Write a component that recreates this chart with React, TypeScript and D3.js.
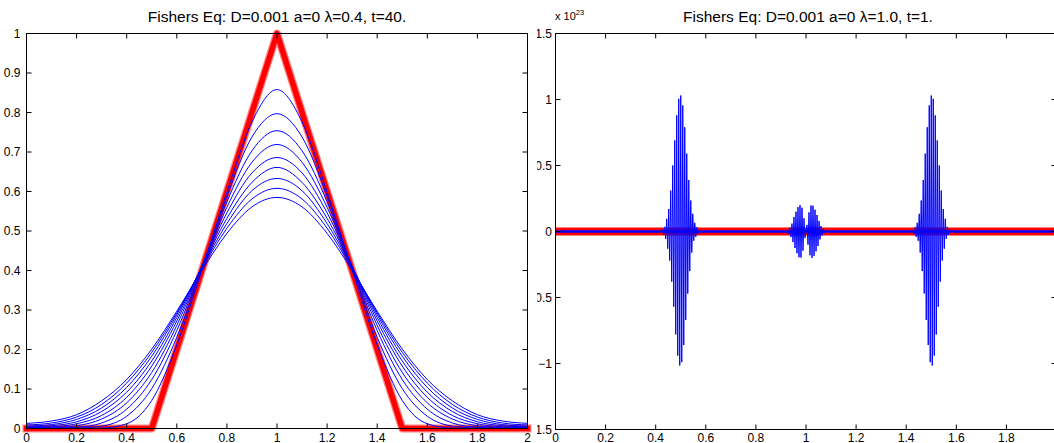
import * as d3 from 'd3';

const FONT = '"Liberation Sans", Arial, Helvetica, sans-serif';

// ---- left panel: lambda = 0.4, t = 40 ----
const profileX = [0, 0.1, 0.2, 0.3, 0.4, 0.5, 0.6, 0.7, 0.8, 0.9, 1.0, 1.1, 1.2, 1.3, 1.4, 1.5, 1.6, 1.7, 1.8, 1.9, 2.0];

// blue profiles (earliest first)
const profiles = [
  [0, 0, 0, 0.001, 0.012, 0.071, 0.212, 0.401, 0.598, 0.776, 0.858, 0.776, 0.598, 0.401, 0.212, 0.071, 0.012, 0.001, 0, 0, 0],
  [0, 0, 0.001, 0.006, 0.031, 0.101, 0.231, 0.405, 0.588, 0.738, 0.797, 0.738, 0.588, 0.405, 0.231, 0.101, 0.031, 0.006, 0.001, 0, 0],
  [0, 0.001, 0.003, 0.014, 0.049, 0.124, 0.248, 0.408, 0.574, 0.703, 0.754, 0.703, 0.574, 0.408, 0.248, 0.124, 0.049, 0.014, 0.003, 0.001, 0],
  [0.001, 0.002, 0.007, 0.024, 0.065, 0.142, 0.261, 0.41, 0.56, 0.674, 0.719, 0.674, 0.56, 0.41, 0.261, 0.142, 0.065, 0.024, 0.007, 0.002, 0.001],
  [0.002, 0.004, 0.012, 0.033, 0.079, 0.158, 0.272, 0.41, 0.546, 0.647, 0.686, 0.647, 0.546, 0.41, 0.272, 0.158, 0.079, 0.033, 0.012, 0.004, 0.002],
  [0.004, 0.007, 0.017, 0.043, 0.092, 0.171, 0.281, 0.409, 0.532, 0.623, 0.661, 0.623, 0.532, 0.409, 0.281, 0.171, 0.092, 0.043, 0.017, 0.007, 0.004],
  [0.006, 0.01, 0.023, 0.052, 0.104, 0.183, 0.288, 0.407, 0.519, 0.602, 0.633, 0.602, 0.519, 0.407, 0.288, 0.183, 0.104, 0.052, 0.023, 0.01, 0.006],
  [0.009, 0.014, 0.029, 0.061, 0.115, 0.193, 0.293, 0.404, 0.507, 0.581, 0.608, 0.581, 0.507, 0.404, 0.293, 0.193, 0.115, 0.061, 0.029, 0.014, 0.009],
  [0.013, 0.019, 0.035, 0.07, 0.124, 0.201, 0.297, 0.4, 0.494, 0.561, 0.585, 0.561, 0.494, 0.4, 0.297, 0.201, 0.124, 0.07, 0.035, 0.019, 0.013],
];

// initial condition (red)
const initX = [0, 0.5, 1, 1.5, 2];
const initY = [0, 0, 1, 0, 0];

// ---- right panel: lambda = 1.0, t = 1 (values in units of 1e23) ----
const gridStep = 0.004;
const packetStarts = [0.428, 0.928, 1.428];
const packetLeft = [0.015, -0.025, 0.035, -0.056, 0.096, -0.13, 0.17, -0.22, 0.31, -0.38, 0.5, -0.57, 0.69, -0.78, 0.88, -0.94, 1.005, -1.015, 1.03, -0.99, 0.955, -0.86, 0.79, -0.67, 0.59, -0.47, 0.39, -0.3, 0.235, -0.16, 0.134, -0.07, 0.066, -0.04, 0.033, -0.02, 0.012];
const packetMid = [0.012, -0.02, 0.03, -0.042, 0.06, -0.08, 0.11, -0.125, 0.15, -0.165, 0.185, -0.195, 0.2, -0.197, 0.18, -0.145, 0.1, -0.05, 0, 0.05, -0.1, 0.145, -0.18, 0.197, -0.2, 0.195, -0.185, 0.165, -0.15, 0.125, -0.11, 0.08, -0.06, 0.042, -0.03, 0.02, -0.012];
const packetRight = [0.012, -0.02, 0.033, -0.04, 0.066, -0.07, 0.134, -0.16, 0.235, -0.3, 0.39, -0.47, 0.59, -0.67, 0.79, -0.86, 0.955, -0.99, 1.03, -1.015, 1.005, -0.94, 0.88, -0.78, 0.69, -0.57, 0.5, -0.38, 0.31, -0.22, 0.17, -0.13, 0.096, -0.056, 0.035, -0.025, 0.015];
// earlier profiles: of order 1, i.e. 0 at the 1e23 scale
const flatX = [0, 2];
const flatY = [0, 0];

const xTicks = [0, 0.2, 0.4, 0.6, 0.8, 1, 1.2, 1.4, 1.6, 1.8, 2];
const rightXLabels = [0, 0.2, 0.4, 0.6, 0.8, 1, 1.2, 1.4, 1.6, 1.8]; // "2" falls outside the picture
const leftYTicks = [0, 0.1, 0.2, 0.3, 0.4, 0.5, 0.6, 0.7, 0.8, 0.9, 1];
const rightYTicks = [-1.5, -1, -0.5, 0, 0.5, 1, 1.5];

const fmt = (v: number) => (v < 0 ? '\u2212' : '') + String(Math.abs(v));

function Frame({ x, y, yTicks, xLabels, tl, yLabelX }: any) {
  const [x0, x1] = x.range();
  const [y0, y1] = y.range();
  return (
    <g>
      <rect x={x0} y={y1} width={x1 - x0} height={y0 - y1} fill="none" stroke="#000" strokeWidth={1} />
      {xTicks.map((t) => (
        <g key={'x' + t}>
          <line x1={x(t)} x2={x(t)} y1={y0} y2={y0 - tl} stroke="#000" />
          <line x1={x(t)} x2={x(t)} y1={y1} y2={y1 + tl} stroke="#000" />
        </g>
      ))}
      {xLabels.map((t: number) => (
        <text key={'xl' + t} x={x(t)} y={441.5} textAnchor="middle" fontSize={12}>{fmt(t)}</text>
      ))}
      {yTicks.map((t: number) => (
        <g key={'y' + t}>
          <line x1={x0} x2={x0 + tl} y1={y(t)} y2={y(t)} stroke="#000" />
          <line x1={x1} x2={x1 - tl} y1={y(t)} y2={y(t)} stroke="#000" />
          <text x={yLabelX} y={y(t) + 4.3} textAnchor="end" fontSize={12}>{fmt(t)}</text>
        </g>
      ))}
    </g>
  );
}

export default function App() {
  const lx = d3.scaleLinear().domain([0, 2]).range([26.5, 527.5]);
  const ly = d3.scaleLinear().domain([0, 1]).range([428.5, 33.5]);
  const rx = d3.scaleLinear().domain([0, 2]).range([555.5, 1056.5]);
  const ry = d3.scaleLinear().domain([-1.5, 1.5]).range([429.5, 33.5]);

  const smooth = d3.line<[number, number]>().x((d) => lx(d[0])).y((d) => ly(d[1])).curve(d3.curveMonotoneX);
  const straightL = d3.line<[number, number]>().x((d) => lx(d[0])).y((d) => ly(d[1]));
  const straightR = d3.line<[number, number]>().x((d) => rx(d[0])).y((d) => ry(d[1]));

  const initPts = initX.map((v, i) => [v, initY[i]] as [number, number]);
  const initPtsR = initX.map((v, i) => [v, initY[i] / 1e23] as [number, number]);

  // unstable solution: zero outside the three oscillating packets
  const packets = [packetLeft, packetMid, packetRight];
  const unstable: [number, number][] = [[0, 0]];
  packets.forEach((p, k) => {
    const s = packetStarts[k];
    unstable.push([s - gridStep, 0]);
    p.forEach((v, i) => unstable.push([s + i * gridStep, v]));
    unstable.push([s + p.length * gridStep, 0]);
  });
  unstable.push([2, 0]);

  return (
    <svg width={1054} height={443} style={{ position: 'absolute', left: 0, top: 0, background: '#fff' }} fontFamily={FONT}>
      <rect width={1054} height={443} fill="#fff" />

      {/* right panel */}
      <g>
        <path d={straightR(initPtsR)!} fill="none" stroke="#ff0000" strokeWidth={8} />
        <path d={straightR(flatX.map((v, i) => [v, flatY[i]] as [number, number]))!} fill="none" stroke="#0000ff" strokeWidth={2.5} />
        <path d={straightR(unstable)!} fill="none" stroke="#0000ff" strokeWidth={1} />
        <Frame x={rx} y={ry} yTicks={rightYTicks} xLabels={rightXLabels} tl={5} yLabelX={552} />
        <text x={808} y={22} textAnchor="middle" fontSize={15.5}>Fishers Eq: D=0.001 a=0 λ=1.0, t=1.</text>
        <text x={555} y={19.5} fontSize={11}>x 10<tspan dy={-4.5} fontSize={7.5}>23</tspan></text>
      </g>

      {/* left panel, drawn over the right one */}
      <g>
        <rect x={0} y={0} width={537} height={443} fill="#fff" />
        <path d={straightL(initPts)!} fill="none" stroke="#ff8080" strokeWidth={8} strokeLinejoin="round" strokeLinecap="square" />
        <path d={straightL(initPts)!} fill="none" stroke="#ff0000" strokeWidth={5.5} strokeLinejoin="round" strokeLinecap="square" />
        {profiles.map((p, i) => (
          <path key={i} d={smooth(p.map((v, j) => [profileX[j], v] as [number, number]))!} fill="none" stroke="#0000ff" strokeWidth={1} />
        ))}
        <Frame x={lx} y={ly} yTicks={leftYTicks} xLabels={xTicks} tl={5} yLabelX={20.5} />
        <text x={277} y={22} textAnchor="middle" fontSize={15.5}>Fishers Eq: D=0.001 a=0 λ=0.4, t=40.</text>
      </g>
    </svg>
  );
}
